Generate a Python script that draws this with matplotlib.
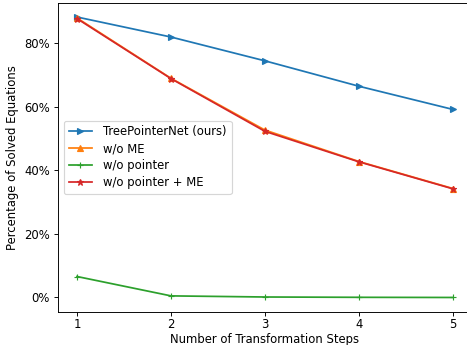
import matplotlib as mpl
import matplotlib.pyplot as plt
from matplotlib.ticker import PercentFormatter

mpl.use('Agg')

steps = [1, 2, 3, 4, 5]
tree_pointer = [88.3, 82.0, 74.5, 66.5, 59.2]
wo_me = [88.0, 69.0, 52.7, 42.8, 34.3]
wo_pointer = [6.6, 0.5, 0.15, 0.05, 0.0]
wo_pointer_me = [87.8, 68.9, 52.3, 42.7, 34.2]

DPI = 83.5
fig = plt.figure(figsize=(467 / DPI, 345 / DPI), dpi=DPI)
ax = fig.add_axes([58.2 / 467, 33.5 / 345, 413.6 / 467, 308.5 / 345])

ax.plot(steps, tree_pointer, marker='>', color='tab:blue', label='TreePointerNet (ours)')
ax.plot(steps, wo_me, marker='^', color='tab:orange', label='w/o ME')
ax.plot(steps, wo_pointer, marker='+', color='tab:green', label='w/o pointer')
ax.plot(steps, wo_pointer_me, marker='*', color='tab:red', label='w/o pointer + ME')

ax.set_xticks(steps)
ax.tick_params(axis='x', pad=2.5)
ax.yaxis.set_major_formatter(PercentFormatter(decimals=0))
ax.set_xlabel('Number of Transformation Steps', labelpad=1)
ax.set_ylabel('Percentage of Solved Equations', labelpad=5)
ax.legend(loc='center left', handletextpad=1.0, labelspacing=0.35)

fig.savefig('out.png', dpi=DPI)
